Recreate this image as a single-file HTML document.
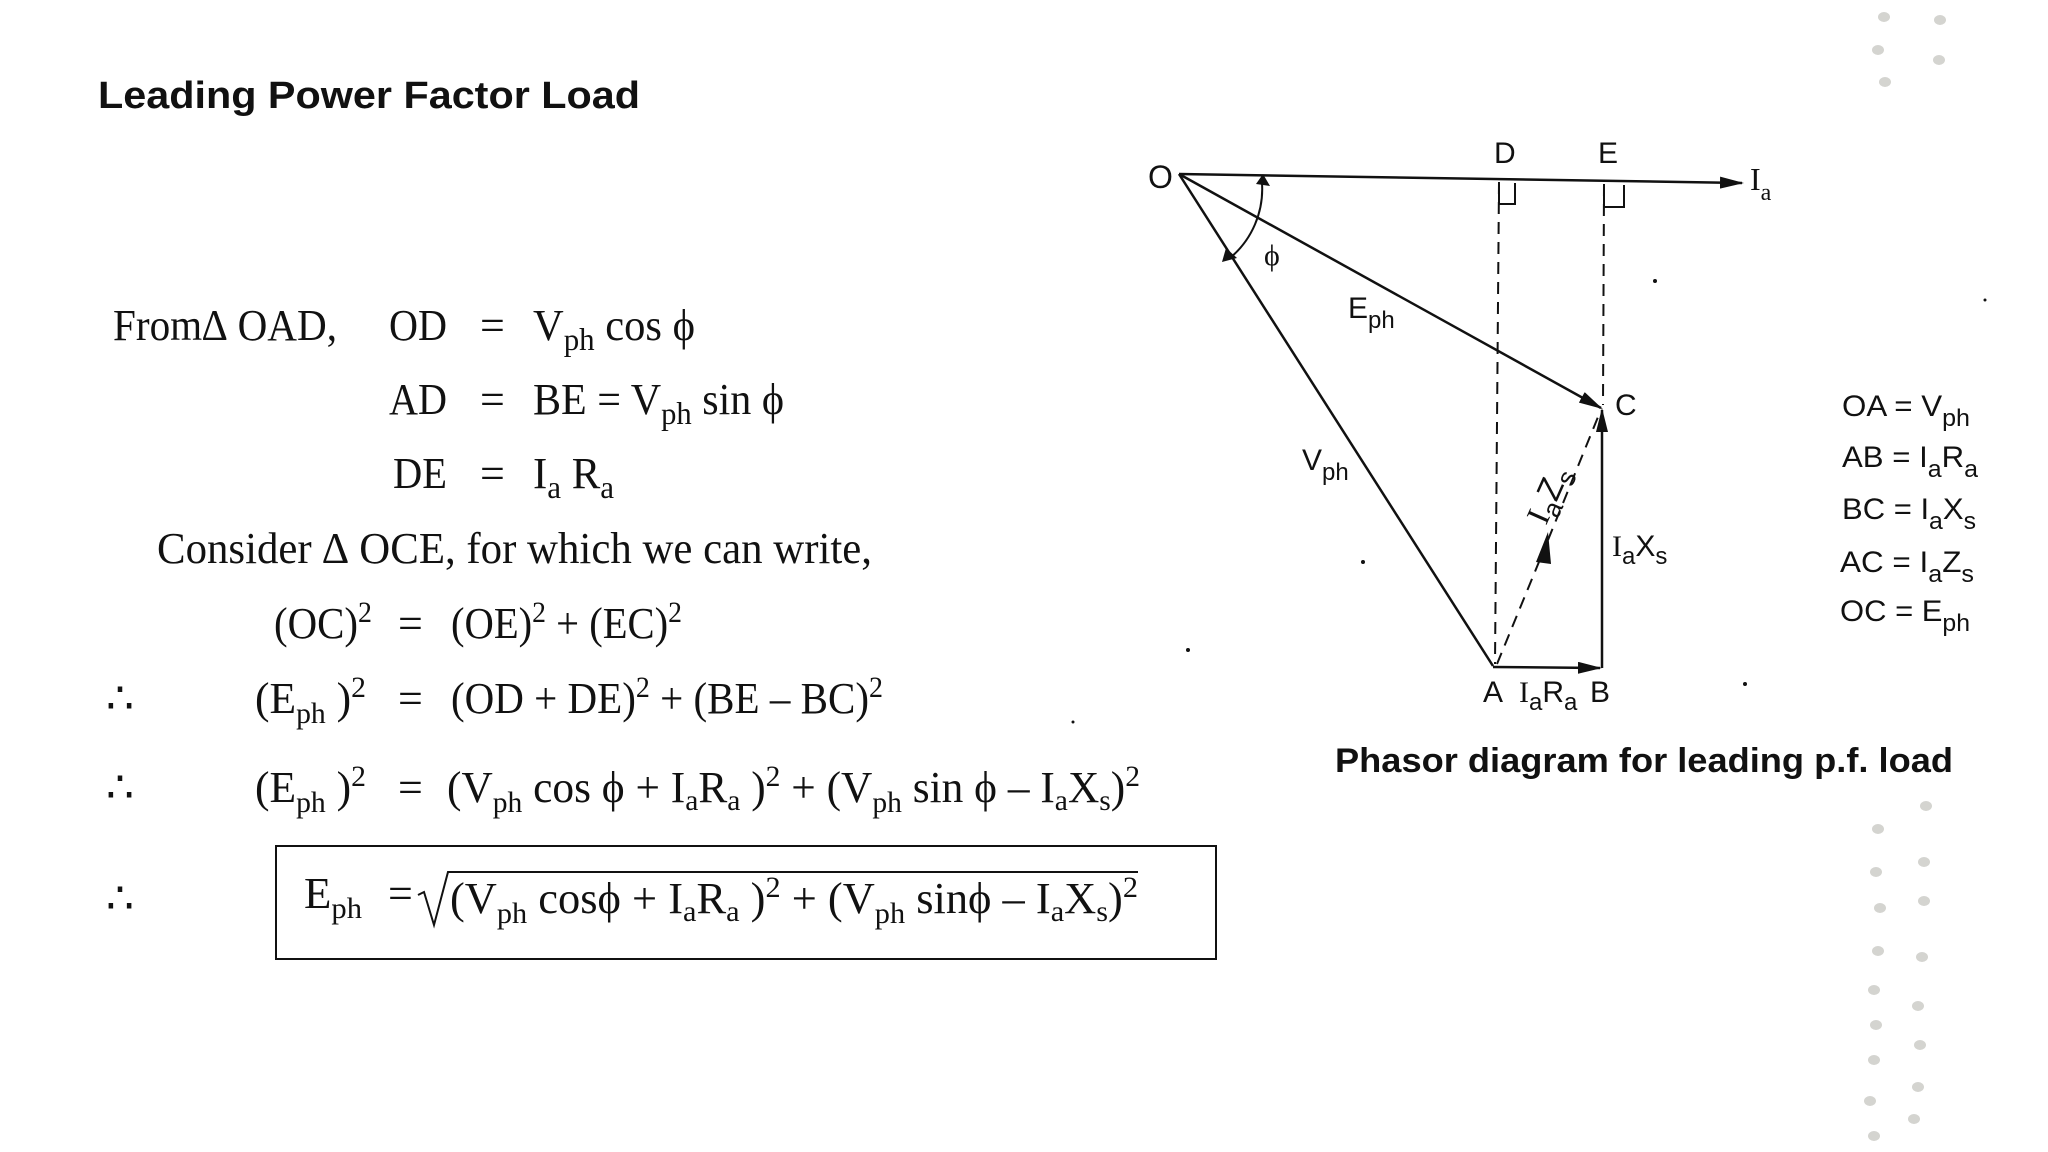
<!DOCTYPE html>
<html><head><meta charset="utf-8"><style>
html,body{margin:0;padding:0;background:#fff;}
svg{display:block;}
.s{font-family:"Liberation Serif",serif;font-size:44px;fill:#111;}
.a{font-family:"Liberation Sans",sans-serif;font-size:30px;fill:#111;}
</style></head><body>
<svg width="2048" height="1152" viewBox="0 0 2048 1152" xmlns="http://www.w3.org/2000/svg">
<defs>
<marker id="ah2" markerWidth="24" markerHeight="12" refX="22" refY="6" orient="auto" markerUnits="userSpaceOnUse"><path d="M0,0 L24,6 L0,12z" fill="#111"/></marker>
</defs>
<g fill="#d4d4d0">
<ellipse cx="1884" cy="17" rx="6" ry="5"/><ellipse cx="1878" cy="50" rx="6" ry="5"/><ellipse cx="1885" cy="82" rx="6" ry="5"/>
<ellipse cx="1940" cy="20" rx="6" ry="5"/><ellipse cx="1939" cy="60" rx="6" ry="5"/>
<ellipse cx="1878" cy="829" rx="6" ry="5"/><ellipse cx="1876" cy="872" rx="6" ry="5"/><ellipse cx="1880" cy="908" rx="6" ry="5"/><ellipse cx="1878" cy="951" rx="6" ry="5"/><ellipse cx="1874" cy="990" rx="6" ry="5"/><ellipse cx="1876" cy="1025" rx="6" ry="5"/><ellipse cx="1874" cy="1060" rx="6" ry="5"/><ellipse cx="1870" cy="1101" rx="6" ry="5"/><ellipse cx="1874" cy="1136" rx="6" ry="5"/>
<ellipse cx="1926" cy="806" rx="6" ry="5"/><ellipse cx="1924" cy="862" rx="6" ry="5"/><ellipse cx="1924" cy="901" rx="6" ry="5"/><ellipse cx="1922" cy="957" rx="6" ry="5"/><ellipse cx="1918" cy="1006" rx="6" ry="5"/><ellipse cx="1920" cy="1045" rx="6" ry="5"/><ellipse cx="1918" cy="1087" rx="6" ry="5"/><ellipse cx="1914" cy="1119" rx="6" ry="5"/>
</g>
<text x="98" y="108" font-family="Liberation Sans,sans-serif" font-weight="bold" font-size="38" fill="#111" textLength="542" lengthAdjust="spacingAndGlyphs">Leading Power Factor Load</text>

<text class="s" x="113" y="340" textLength="224" lengthAdjust="spacingAndGlyphs">From∆ OAD,</text>
<text class="s" x="389" y="340" textLength="58" lengthAdjust="spacingAndGlyphs">OD</text><text class="s" x="480" y="340">=</text>
<text class="s" x="533" y="340" textLength="162" lengthAdjust="spacingAndGlyphs">V<tspan font-size="32" dy="10">ph</tspan><tspan dy="-10"> cos ϕ</tspan></text>
<text class="s" x="389" y="414" textLength="58" lengthAdjust="spacingAndGlyphs">AD</text><text class="s" x="480" y="414">=</text>
<text class="s" x="533" y="414" textLength="251" lengthAdjust="spacingAndGlyphs">BE = V<tspan font-size="32" dy="10">ph</tspan><tspan dy="-10"> sin ϕ</tspan></text>
<text class="s" x="393" y="488" textLength="54" lengthAdjust="spacingAndGlyphs">DE</text><text class="s" x="480" y="488">=</text>
<text class="s" x="533" y="488" textLength="81" lengthAdjust="spacingAndGlyphs">I<tspan font-size="32" dy="10">a</tspan><tspan dy="-10"> R</tspan><tspan font-size="32" dy="10">a</tspan></text>
<text class="s" x="157" y="563" textLength="715" lengthAdjust="spacingAndGlyphs">Consider ∆ OCE, for which we can write,</text>
<text class="s" x="274" y="638" textLength="98" lengthAdjust="spacingAndGlyphs">(OC)<tspan font-size="30" dy="-16">2</tspan></text>
<text class="s" x="398" y="638">=</text>
<text class="s" x="451" y="638" textLength="231" lengthAdjust="spacingAndGlyphs">(OE)<tspan font-size="30" dy="-16">2</tspan><tspan dy="16"> + (EC)</tspan><tspan font-size="30" dy="-16">2</tspan></text>
<text class="s" x="106" y="713">∴</text>
<text class="s" x="255" y="713" textLength="111" lengthAdjust="spacingAndGlyphs">(E<tspan font-size="30" dy="10">ph</tspan><tspan dy="-10"> )</tspan><tspan font-size="30" dy="-16">2</tspan></text>
<text class="s" x="398" y="713">=</text>
<text class="s" x="451" y="713" textLength="432" lengthAdjust="spacingAndGlyphs">(OD + DE)<tspan font-size="30" dy="-16">2</tspan><tspan dy="16"> + (BE – BC)</tspan><tspan font-size="30" dy="-16">2</tspan></text>
<text class="s" x="106" y="802">∴</text>
<text class="s" x="255" y="802" textLength="111" lengthAdjust="spacingAndGlyphs">(E<tspan font-size="30" dy="10">ph</tspan><tspan dy="-10"> )</tspan><tspan font-size="30" dy="-16">2</tspan></text>
<text class="s" x="398" y="802">=</text>
<text class="s" x="447" y="802" textLength="693" lengthAdjust="spacingAndGlyphs">(V<tspan font-size="30" dy="10">ph</tspan><tspan dy="-10">  cos ϕ + I</tspan><tspan font-size="30" dy="8">a</tspan><tspan dy="-8">R</tspan><tspan font-size="30" dy="8">a</tspan><tspan dy="-8"> )</tspan><tspan font-size="30" dy="-16">2</tspan><tspan dy="16"> + (V</tspan><tspan font-size="30" dy="10">ph</tspan><tspan dy="-10">  sin ϕ – I</tspan><tspan font-size="30" dy="8">a</tspan><tspan dy="-8">X</tspan><tspan font-size="30" dy="8">s</tspan><tspan dy="-8">)</tspan><tspan font-size="30" dy="-16">2</tspan></text>
<text class="s" x="106" y="913">∴</text>
<rect x="276" y="846" width="940" height="113" fill="none" stroke="#111" stroke-width="2"/>
<text class="s" x="304" y="908" textLength="58" lengthAdjust="spacingAndGlyphs">E<tspan font-size="30" dy="10">ph</tspan></text>
<text class="s" x="388" y="908">=</text>
<path d="M418,895 L424,892 L434,925 L448,872 L1138,872" fill="none" stroke="#111" stroke-width="2"/>
<text class="s" x="450" y="913" textLength="688" lengthAdjust="spacingAndGlyphs">(V<tspan font-size="30" dy="10">ph</tspan><tspan dy="-10">  cosϕ + I</tspan><tspan font-size="30" dy="8">a</tspan><tspan dy="-8">R</tspan><tspan font-size="30" dy="8">a</tspan><tspan dy="-8"> )</tspan><tspan font-size="30" dy="-16">2</tspan><tspan dy="16"> + (V</tspan><tspan font-size="30" dy="10">ph</tspan><tspan dy="-10">  sinϕ – I</tspan><tspan font-size="30" dy="8">a</tspan><tspan dy="-8">X</tspan><tspan font-size="30" dy="8">s</tspan><tspan dy="-8">)</tspan><tspan font-size="30" dy="-16">2</tspan></text>

<g stroke="#111" stroke-width="2.5" fill="none">
<line x1="1179" y1="174" x2="1742" y2="183" marker-end="url(#ah2)"/>
<line x1="1179" y1="174" x2="1493" y2="666"/>
<line x1="1179" y1="174" x2="1601" y2="408" marker-end="url(#ah2)"/>
<line x1="1493" y1="667" x2="1600" y2="668" marker-end="url(#ah2)"/>
<line x1="1602" y1="668" x2="1602" y2="410" marker-end="url(#ah2)"/>
</g>
<g stroke="#111" stroke-width="2" fill="none" stroke-dasharray="12,8">
<line x1="1499" y1="182" x2="1495" y2="664"/>
<line x1="1604" y1="184" x2="1603" y2="405"/>
<line x1="1497" y1="664" x2="1548" y2="540"/>
<line x1="1548" y1="540" x2="1600" y2="412"/>
</g>
<path d="M1536,562 L1548,532 L1551,564z" fill="#111"/>
<g stroke="#111" stroke-width="2" fill="none">
<path d="M1499,184 v20 h16 v-21"/>
<path d="M1604,185 v22 h20 v-22"/>
<path d="M1262,183 A90,90 0 0 1 1230,258"/>
</g>
<path d="M1256,184 L1263,174 L1270,186z" fill="#111"/>
<path d="M1222,262 L1226,248 L1237,258z" fill="#111"/>
<g class="a">
<text x="1148" y="188" font-size="32">O</text>
<text x="1494" y="163">D</text>
<text x="1598" y="163">E</text>
<text x="1750" y="190" font-family="Liberation Serif,serif" font-size="32">I<tspan font-size="24" dy="10">a</tspan></text>
<text x="1264" y="265" font-family="Liberation Serif,serif">ϕ</text>
<text x="1348" y="318">E<tspan font-size="24" dy="10">ph</tspan></text>
<text x="1302" y="470">V<tspan font-size="24" dy="10">ph</tspan></text>
<text x="1615" y="415">C</text>
<text x="1483" y="702">A</text>
<text x="1519" y="702"><tspan font-family="Liberation Serif,serif">I</tspan><tspan font-size="24" dy="8">a</tspan><tspan dy="-8">R</tspan><tspan font-size="24" dy="8">a</tspan></text>
<text x="1590" y="702">B</text>
<text x="1612" y="556"><tspan font-family="Liberation Serif,serif">I</tspan><tspan font-size="24" dy="8">a</tspan><tspan dy="-8">X</tspan><tspan font-size="24" dy="8">s</tspan></text>
<text transform="translate(1546,526) rotate(-66)" font-size="33"><tspan font-family="Liberation Serif,serif">I</tspan><tspan font-size="26" dy="8">a</tspan><tspan dy="-8">Z</tspan><tspan font-size="26" dy="8">s</tspan></text>
<text x="1842" y="416" textLength="128" lengthAdjust="spacingAndGlyphs">OA = V<tspan font-size="24" dy="10">ph</tspan></text>
<text x="1842" y="467" textLength="136" lengthAdjust="spacingAndGlyphs">AB = I<tspan font-size="24" dy="10">a</tspan><tspan dy="-10">R</tspan><tspan font-size="24" dy="10">a</tspan></text>
<text x="1842" y="519" textLength="134" lengthAdjust="spacingAndGlyphs">BC = I<tspan font-size="24" dy="10">a</tspan><tspan dy="-10">X</tspan><tspan font-size="24" dy="10">s</tspan></text>
<text x="1840" y="572" textLength="134" lengthAdjust="spacingAndGlyphs">AC = I<tspan font-size="24" dy="10">a</tspan><tspan dy="-10">Z</tspan><tspan font-size="24" dy="10">s</tspan></text>
<text x="1840" y="621" textLength="130" lengthAdjust="spacingAndGlyphs">OC = E<tspan font-size="24" dy="10">ph</tspan></text>
</g>
<text x="1335" y="772" font-family="Liberation Sans,sans-serif" font-weight="bold" font-size="34" fill="#111" textLength="618" lengthAdjust="spacingAndGlyphs">Phasor diagram for leading p.f. load</text>
<g fill="#111"><circle cx="1655" cy="281" r="2"/><circle cx="1363" cy="562" r="2"/><circle cx="1188" cy="650" r="2"/><circle cx="1745" cy="684" r="2"/><circle cx="1073" cy="722" r="1.5"/><circle cx="1985" cy="300" r="1.5"/></g>
</svg>
</body></html>
